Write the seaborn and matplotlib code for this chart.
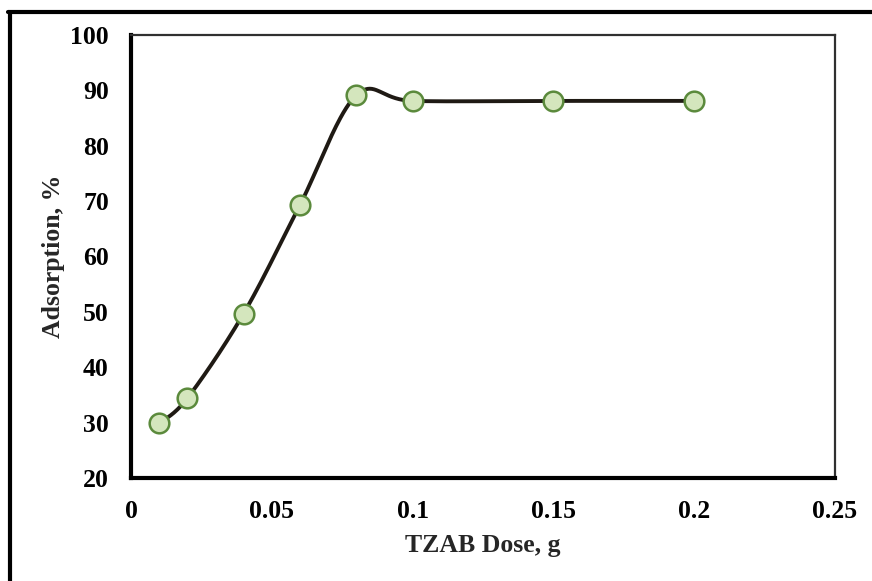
import numpy as np
import pandas as pd
import matplotlib
matplotlib.use("Agg")
import matplotlib.pyplot as plt
from matplotlib.lines import Line2D
import seaborn as sns

dose = [0.01, 0.02, 0.04, 0.06, 0.08, 0.10, 0.15, 0.20]
adsorption = [29.9, 34.4, 49.7, 69.3, 89.1, 88.1, 88.1, 88.1]
x_ticks = [0, 0.05, 0.1, 0.15, 0.2, 0.25]
x_tick_labels = ["0", "0.05", "0.1", "0.15", "0.2", "0.25"]
y_ticks = [20, 30, 40, 50, 60, 70, 80, 90, 100]
x_label = "TZAB Dose, g"
y_label = "Adsorption, %"

sns.set_theme(style="white")
plt.rcParams['font.family'] = ['Liberation Serif', 'DejaVu Serif']
plt.rcParams['font.weight'] = 'bold'

fig = plt.figure(figsize=(8.72, 5.81), dpi=100)
ax = fig.add_axes([131/872, 1-478/581, (835-131)/872, (478-35)/581])
ax.set_xlim(0, 0.25)
ax.set_ylim(20, 100)

# Excel-style smoothed curve (Bezier with 1/6 tension) computed in display space
def excel_smooth(xs, ys, ax, n=40):
    pts = ax.transData.transform(np.column_stack([xs, ys]))
    m = len(pts)
    out = []
    for i in range(m - 1):
        p0 = pts[i - 1] if i > 0 else pts[i]
        p1 = pts[i]
        p2 = pts[i + 1]
        p3 = pts[i + 2] if i + 2 < m else pts[i + 1]
        c1 = p1 + (p2 - p0) / 6.0
        c2 = p2 - (p3 - p1) / 6.0
        t = np.linspace(0, 1, n)[:, None]
        seg = ((1 - t) ** 3) * p1 + 3 * ((1 - t) ** 2) * t * c1 + 3 * (1 - t) * t ** 2 * c2 + t ** 3 * p2
        out.append(seg if i == 0 else seg[1:])
    out = np.vstack(out)
    return ax.transData.inverted().transform(out)

curve = excel_smooth(dose, adsorption, ax)
curve_df = pd.DataFrame({"x": curve[:, 0], "y": curve[:, 1]})
sns.lineplot(data=curve_df, x="x", y="y", sort=False, estimator=None, ax=ax,
             color="#1f1a14", linewidth=2.8, zorder=2)

pts_df = pd.DataFrame({"dose": dose, "adsorption": adsorption})
sns.scatterplot(data=pts_df, x="dose", y="adsorption", ax=ax, s=200,
                color="#d4e6bd", edgecolor="#5b8a3c", linewidth=1.8, zorder=3)

ax.set_xticks(x_ticks)
ax.set_xticklabels(x_tick_labels)
ax.set_yticks(y_ticks)
ax.set_xlabel(x_label, fontsize=18.5, fontweight='bold', labelpad=8)
ax.set_ylabel(y_label, fontsize=18.5, fontweight='bold', labelpad=4)
ax.tick_params(axis='both', which='major', direction='out', length=6, width=2.5,
               labelsize=18.5, colors='black', pad=10)
for lbl in ax.get_xticklabels() + ax.get_yticklabels():
    lbl.set_fontweight('bold')

for side in ['left', 'bottom']:
    ax.spines[side].set_linewidth(3)
    ax.spines[side].set_color('black')
for side in ['top', 'right']:
    ax.spines[side].set_linewidth(1.6)
    ax.spines[side].set_color('#303030')
ax.grid(False)

# outer chart border (left and top visible)
fig.add_artist(Line2D([9.5/872, 9.5/872], [0, 1-12/581], transform=fig.transFigure,
                      color='black', linewidth=3))
fig.add_artist(Line2D([8/872, 1], [1-12/581, 1-12/581], transform=fig.transFigure,
                      color='black', linewidth=3))

fig.savefig("out.png", dpi=100)
